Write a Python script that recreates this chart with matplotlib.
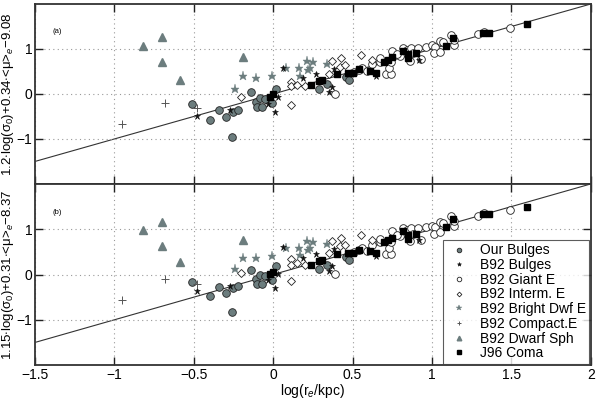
import matplotlib
matplotlib.use("Agg")
import matplotlib.pyplot as plt
import numpy as np

plt.rcParams['font.family'] = ['Liberation Sans', 'DejaVu Sans']
plt.rcParams['mathtext.fontset'] = 'custom'
plt.rcParams['mathtext.rm'] = 'Liberation Sans'
plt.rcParams['mathtext.it'] = 'Liberation Sans:italic'
plt.rcParams['mathtext.sf'] = 'Liberation Sans'

# ---------------- data (top panel a) ----------------
our_x = [-0.51, -0.40, -0.34, -0.30, -0.26, -0.25, -0.22, -0.14, -0.11, -0.10, -0.08, -0.07, -0.05, -0.01, 0.02, 0.29, 0.34, 0.46, 0.48]
our_ya = [-0.23, -0.57, -0.36, -0.52, -0.96, -0.40, -0.36, 0.05, -0.18, -0.30, -0.08, -0.30, -0.11, -0.19, 0.10, 0.11, 0.22, 0.38, 0.31]
our_yb = [-0.17, -0.48, -0.27, -0.41, -0.82, -0.30, -0.25, 0.10, -0.10, -0.22, -0.01, -0.22, -0.04, -0.12, 0.18, 0.13, 0.22, 0.38, 0.32]

bul_x = [-0.48, -0.27, -0.03, 0.01, 0.03, 0.06, 0.19, 0.27, 0.35, 0.37, 0.38, 0.65, 0.92]
bul_ya = [-0.48, -0.36, -0.22, -0.41, -0.06, 0.58, 0.35, 0.44, 0.05, 0.16, 0.55, 0.40, 0.76]
bul_yb = [-0.36, -0.25, -0.12, -0.30, 0.01, 0.60, 0.37, 0.45, 0.08, 0.18, 0.56, 0.41, 0.76]

gia_x = [0.39, 0.51, 0.54, 0.56, 0.59, 0.67, 0.67, 0.71, 0.74, 0.73, 0.74, 0.75, 0.80, 0.82, 0.84, 0.87, 0.86, 0.88,
         0.91, 0.93, 0.96, 1.00, 1.02, 1.01, 1.05, 1.05, 1.07, 1.12, 1.14, 1.14, 1.29, 1.33, 1.49, 0.62, 0.78]
gia_ya = [0.01, 0.49, 0.53, 0.57, 0.50, 0.72, 0.79, 0.44, 0.44, 0.57, 0.72, 0.96, 0.84, 1.03, 0.98, 1.03, 0.74, 0.90,
          1.03, 0.77, 1.05, 1.09, 1.05, 0.90, 1.18, 0.94, 1.16, 1.31, 1.09, 1.20, 1.33, 1.38, 1.47, 0.66, 0.88]
gia_yb = [0.02, 0.50, 0.54, 0.58, 0.51, 0.72, 0.79, 0.45, 0.45, 0.58, 0.72, 0.96, 0.84, 1.02, 0.98, 1.02, 0.74, 0.90,
          1.02, 0.77, 1.04, 1.08, 1.04, 0.90, 1.16, 0.93, 1.14, 1.29, 1.08, 1.19, 1.30, 1.35, 1.43, 0.66, 0.88]

int_x = [-0.20, 0.11, 0.11, 0.11, 0.15, 0.20, 0.35, 0.37, 0.43, 0.42, 0.45, 0.55, 0.62]
int_ya = [-0.06, -0.24, 0.27, 0.17, 0.19, 0.18, 0.44, 0.73, 0.79, 0.61, 0.64, 0.87, 0.76]
int_yb = [0.04, -0.15, 0.34, 0.21, 0.25, 0.22, 0.47, 0.74, 0.80, 0.62, 0.65, 0.88, 0.77]

bri_x = [-0.24, -0.19, -0.11, -0.01, 0.08, 0.16, 0.21, 0.25, 0.23, 0.22, 0.34, 0.17]
bri_ya = [0.12, 0.39, 0.35, 0.39, 0.58, 0.58, 0.73, 0.70, 0.57, 0.53, 0.66, 0.41]
bri_yb = [0.12, 0.37, 0.36, 0.41, 0.58, 0.58, 0.74, 0.71, 0.58, 0.54, 0.67, 0.42]

cmp_x = [-0.95, -0.68, -0.48]
cmp_ya = [-0.67, -0.20, -0.32]
cmp_yb = [-0.56, -0.10, -0.22]

sph_x = [-0.82, -0.70, -0.70, -0.59, -0.19]
sph_ya = [1.07, 1.26, 0.70, 0.30, 0.83]
sph_yb = [0.99, 1.15, 0.62, 0.27, 0.76]

com_x = [-0.02, 0.00, 0.24, 0.29, 0.31, 0.40, 0.47, 0.50, 0.54, 0.61, 0.65, 0.70, 0.72, 0.75, 0.82, 0.85, 0.85,
         0.90, 1.09, 1.13, 1.32, 1.36, 1.60]
com_ya = [-0.06, -0.01, 0.20, 0.29, 0.31, 0.44, 0.47, 0.46, 0.55, 0.52, 0.47, 0.72, 0.76, 0.82, 0.96, 0.89, 0.79,
          0.90, 1.07, 1.24, 1.36, 1.35, 1.56]
com_yb = [0.01, 0.05, 0.22, 0.30, 0.32, 0.45, 0.47, 0.47, 0.55, 0.52, 0.48, 0.72, 0.76, 0.81, 0.95, 0.88, 0.79,
          0.89, 1.05, 1.22, 1.33, 1.33, 1.50]

fit_x = [-1.5, 2.0]
fit_y = [-1.5, 2.0]

xticks = [-1.5, -1, -0.5, 0, 0.5, 1, 1.5, 2]
xticklabels = ['\u22121.5', '\u22121', '\u22120.5', '0', '0.5', '1', '1.5', '2']
yticks = [-1, 0, 1]
yticklabels = ['\u22121', '0', '1']

gray = '#6c7d7e'

fig = plt.figure(figsize=(5.98, 3.99), dpi=100)
axa = fig.add_axes([0.0585, 0.539, 0.9295, 0.451])
axb = fig.add_axes([0.0585, 0.085, 0.9295, 0.454])

def draw(ax, ys, label, tag):
    (our_y, bul_y, gia_y, int_y, bri_y, cmp_y, sph_y, com_y) = ys
    ax.plot(fit_x, fit_y, color='#333333', lw=0.8, zorder=1)
    ax.plot(our_x, our_y, 'o', ms=5.5, mfc=gray, mec='#222222', mew=0.6, ls='none', label='Our Bulges', zorder=3)
    ax.plot(bul_x, bul_y, '*', ms=5, mfc='#111111', mec='#111111', mew=0.4, ls='none', label='B92 Bulges', zorder=4)
    ax.plot(gia_x, gia_y, 'o', ms=5.5, mfc='white', mec='#222222', mew=0.6, ls='none', label='B92 Giant E', zorder=2)
    ax.plot(int_x, int_y, 'D', ms=4, mfc='white', mec='#222222', mew=0.6, ls='none', label='B92 Interm. E', zorder=2)
    ax.plot(bri_x, bri_y, '*', ms=6.5, mfc=gray, mec=gray, mew=0.3, ls='none', label='B92 Bright Dwf E', zorder=3)
    ax.plot(cmp_x, cmp_y, '+', ms=5.5, color='#555555', mew=0.7, ls='none', label='B92 Compact.E', zorder=3)
    ax.plot(sph_x, sph_y, '^', ms=5.5, mfc=gray, mec=gray, ls='none', label='B92 Dwarf Sph', zorder=3)
    ax.plot(com_x, com_y, 's', ms=4.3, mfc='black', mec='black', ls='none', label='J96 Coma', zorder=4)
    ax.set_xlim(-1.5, 2)
    ax.set_ylim(-2, 2)
    ax.set_xticks(xticks)
    ax.set_yticks(yticks)
    ax.set_yticklabels(yticklabels, fontsize=10)
    ax.grid(True, ls=(0, (1, 3)), color='#999999', lw=0.8)
    ax.tick_params(direction='in', length=6, width=1.0, top=True, right=True, color='#222222', pad=2)
    for s in ax.spines.values():
        s.set_linewidth(1.3)
        s.set_color('#333333')
    ax.set_ylabel(label, fontsize=9.5, labelpad=0)
    ax.text(-1.39, 1.38, tag, fontsize=5.5, va='center', ha='left')

draw(axa, (our_ya, bul_ya, gia_ya, int_ya, bri_ya, cmp_ya, sph_ya, com_ya),
     '1.2$\\cdot$log(\u03c3$_0$)+0.34$\\cdot$<\u03bc>$_e$\u22129.08', '(a)')
draw(axb, (our_yb, bul_yb, gia_yb, int_yb, bri_yb, cmp_yb, sph_yb, com_yb),
     '1.15$\\cdot$log(\u03c3$_0$)+0.31$\\cdot$<\u03bc>$_e$\u22128.37', '(b)')

axa.set_xticklabels([])
axb.set_xticklabels(xticklabels, fontsize=10)
axb.set_xlabel('log(r$_e$/kpc)', fontsize=10, labelpad=0)

leg = axb.legend(loc='lower right', fontsize=10, frameon=True, fancybox=False, edgecolor='#333333',
                 handlelength=1.8, handletextpad=0.6, borderpad=0.25, labelspacing=0.05, markerscale=0.6,
                 borderaxespad=0.1)
leg.get_frame().set_linewidth(0.8)

fig.savefig('out.png', dpi=100)
